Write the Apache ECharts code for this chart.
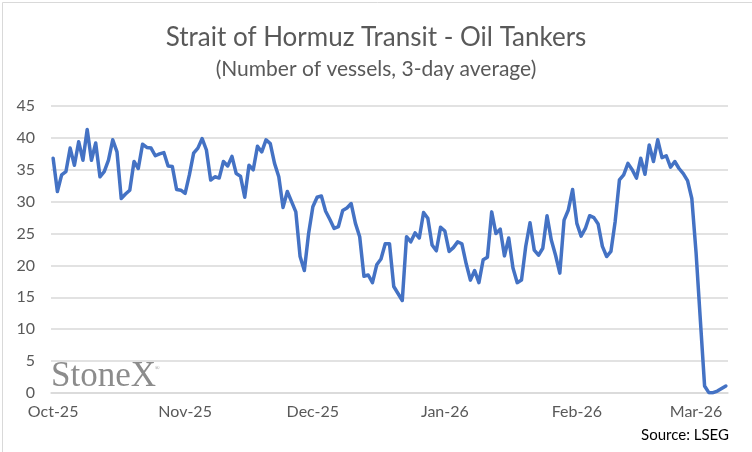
<!DOCTYPE html>
<html>
<head>
<meta charset="utf-8">
<script src="https://cdn.jsdelivr.net/npm/echarts@6/dist/echarts.min.js"></script>
<style>
  html, body { margin: 0; padding: 0; background: #fff; }
  #chart { width: 752px; height: 452px; }
</style>
</head>
<body>
<div id="chart"></div>
<script>
// daily points, first one is 1 Oct 2025
const startDate = "2025-10-01";
const tankers = [
  36.8, 31.6, 34.2, 34.7, 38.4, 35.7, 39.4, 36.5, 41.3, 36.5,
  39.2, 33.9, 34.7, 36.5, 39.7, 37.8, 30.5, 31.2, 31.8, 36.3,
  35.2, 39.0, 38.5, 38.4, 37.2, 37.5, 37.7, 35.6, 35.5, 31.9,
  31.8, 31.3, 34.2, 37.6, 38.4, 39.9, 38.1, 33.4, 33.9, 33.7,
  36.3, 35.6, 37.1, 34.4, 34.0, 30.7, 35.7, 35.0, 38.7, 37.8,
  39.7, 39.1, 36.0, 33.9, 29.1, 31.6, 30.0, 28.4, 21.4, 19.2,
  25.0, 29.2, 30.7, 30.9, 28.5, 27.2, 25.8, 26.1, 28.6, 29.0,
  29.7, 26.6, 24.5, 18.3, 18.5, 17.3, 20.1, 21.0, 23.4, 23.4,
  16.7, 15.6, 14.5, 24.5, 23.7, 25.1, 24.3, 28.3, 27.4, 23.2,
  22.3, 26.0, 25.4, 22.2, 22.8, 23.7, 23.4, 20.3, 17.7, 19.2,
  17.3, 20.9, 21.3, 28.4, 25.0, 25.7, 21.5, 24.3, 19.6, 17.3,
  17.7, 23.0, 26.7, 22.4, 21.6, 22.7, 27.8, 24.0, 21.6, 18.8,
  27.1, 28.7, 31.9, 26.6, 24.6, 25.8, 27.8, 27.5, 26.5, 23.0,
  21.4, 22.2, 26.9, 33.4, 34.2, 36.0, 35.0, 33.7, 36.8, 34.3,
  38.9, 36.3, 39.7, 36.9, 37.2, 35.4, 36.3, 35.2, 34.4, 33.3,
  30.5, 22.0, 11.5, 1.1, 0.05, 0.05, 0.3, 0.7, 1.1
];
const monthNames = ["Jan", "Feb", "Mar", "Apr", "May", "Jun", "Jul", "Aug", "Sep", "Oct", "Nov", "Dec"];

const dates = [];
const d0 = new Date(startDate + "T00:00:00Z");
for (let i = 0; i < tankers.length; i++) {
  const d = new Date(d0.getTime() + i * 86400000);
  dates.push(d.toISOString().slice(0, 10));
}
const isMonthStart = (v) => v.slice(8, 10) === "01";
const monthLabel = (v) => monthNames[Number(v.slice(5, 7)) - 1] + "-" + v.slice(2, 4);

const grey = "#595959";
const font = "Lato";

const chart = echarts.init(document.getElementById("chart"));
chart.setOption({
  animation: false,
  backgroundColor: "#fff",
  title: {
    text: "Strait of Hormuz Transit - Oil Tankers",
    subtext: "(Number of vessels, 3-day average)",
    left: "center",
    top: 20,
    itemGap: 8,
    textStyle: { color: grey, fontFamily: font, fontSize: 26, fontWeight: "normal" },
    subtextStyle: { color: grey, fontFamily: font, fontSize: 21 },
  },
  grid: { left: 51, right: 24, top: 106, bottom: 59, containLabel: false },
  xAxis: {
    type: "category",
    data: dates,
    boundaryGap: true,
    axisLine: { lineStyle: { color: "#d9d9d9", width: 1.5 } },
    axisTick: {
      interval: (i, v) => isMonthStart(v),
      length: 5,
      lineStyle: { color: "#d9d9d9", width: 1.5 },
    },
    axisLabel: {
      interval: (i, v) => isMonthStart(v),
      formatter: monthLabel,
      color: grey,
      fontFamily: font,
      fontSize: 16,
      margin: 11,
    },
    splitLine: { show: false },
  },
  yAxis: {
    type: "value",
    min: 0,
    max: 45,
    interval: 5,
    axisLine: { show: false },
    axisTick: { show: false },
    axisLabel: { color: grey, fontFamily: font, fontSize: 16, margin: 16 },
    splitLine: { lineStyle: { color: "#d9d9d9", width: 1.5 } },
  },
  series: [
    {
      type: "line",
      data: tankers,
      symbol: "none",
      lineStyle: { color: "#4472c4", width: 3.5, join: "round", cap: "round" },
    },
  ],
  graphic: [
    {
      type: "rect",
      left: 0,
      top: 0,
      shape: { x: 0.5, y: 0.5, width: 751, height: 451 },
      style: { fill: "none", stroke: "#d9d9d9", lineWidth: 1 },
      silent: true,
    },
    {
      type: "text",
      left: 51,
      top: 359,
      style: { text: "StoneX", fill: "#8c8c8c", font: "35px 'Liberation Serif'" },
      silent: true,
    },
    {
      type: "text",
      left: 155,
      top: 365,
      style: { text: "®", fill: "#8c8c8c", font: "6px 'Liberation Serif'" },
      silent: true,
    },
    {
      type: "text",
      right: 23,
      top: 428,
      style: { text: "Source: LSEG", fill: "#000", font: "15px " + font },
      silent: true,
    },
  ],
});
window.addEventListener("resize", () => chart.resize());
</script>
</body>
</html>
